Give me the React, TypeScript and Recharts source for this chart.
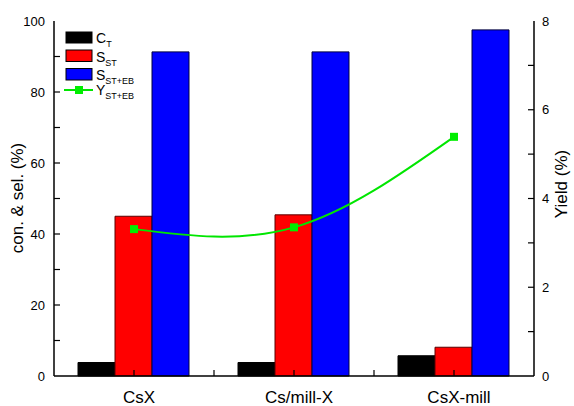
import {
  Bar,
  ComposedChart,
  Line,
  XAxis,
  YAxis,
} from "recharts";

const categories = ["CsX", "Cs/mill-X", "CsX-mill"];
const conversionT = [3.8, 3.8, 5.7];
const selST = [45.0, 45.4, 8.1];
const selSTEB = [91.3, 91.3, 97.5];
const yieldSTEB = [3.31, 3.35, 5.39];

const leftTicks = [0, 10, 20, 30, 40, 50, 60, 70, 80, 90, 100];
const rightTicks = [0, 1, 2, 3, 4, 5, 6, 7, 8];
const topTicks = [0.5, 1, 1.5, 2, 2.5];

const data = categories.map((name, i) => ({
  name,
  ct: conversionT[i],
  sst: selST[i],
  ssteb: selSTEB[i],
  y: yieldSTEB[i],
}));

const FONT = "'Liberation Sans', Arial, sans-serif";

function LeftTick(props: any) {
  const { x, y, payload } = props;
  const v = payload.value;
  return (
    <g>
      {v !== 0 && v !== 100 && (
        <line x1={x} x2={x + 6} y1={y} y2={y} stroke="#000" strokeWidth={1.2} />
      )}
      {v % 20 === 0 && (
        <text x={x - 9} y={y} dy="0.35em" textAnchor="end" fontSize={13} fontFamily={FONT} fill="#000">
          {v}
        </text>
      )}
    </g>
  );
}

function RightTick(props: any) {
  const { x, y, payload } = props;
  const v = payload.value;
  return (
    <g>
      {v !== 0 && v !== 8 && (
        <line x1={x} x2={x - 6} y1={y} y2={y} stroke="#000" strokeWidth={1.2} />
      )}
      {v % 2 === 0 && (
        <text x={x + 8} y={y} dy="0.35em" textAnchor="start" fontSize={13} fontFamily={FONT} fill="#000">
          {v}
        </text>
      )}
    </g>
  );
}

function BottomTick(props: any) {
  const { x, y, payload, index } = props;
  return (
    <g>
      <line x1={x} x2={x} y1={y} y2={y - 6} stroke="#000" strokeWidth={1.2} />
      {index < 2 && (
        <line x1={x + 80} x2={x + 80} y1={y} y2={y - 6} stroke="#000" strokeWidth={1.2} />
      )}
      <text x={x + 5} y={y + 27} textAnchor="middle" fontSize={17} fontFamily={FONT} fill="#000">
        {payload.value}
      </text>
    </g>
  );
}

function TopTick(props: any) {
  const { x, y } = props;
  return <line x1={x} x2={x} y1={y} y2={y + 6} stroke="#000" strokeWidth={1.2} />;
}

function SquareDot(props: any) {
  const { cx, cy } = props;
  if (cx == null || cy == null) return null;
  return <rect x={cx - 4} y={cy - 4} width={8} height={8} fill="#00ee00" />;
}

function Overlay() {
  const txt = { fontFamily: FONT, fill: "#000" };
  return (
    <svg
      width={574}
      height={406}
      style={{ position: "absolute", left: 0, top: 0, pointerEvents: "none" }}
    >
      <text
        x={17}
        y={198}
        transform="rotate(-90 17 198)"
        textAnchor="middle"
        dominantBaseline="central"
        fontSize={17}
        {...txt}
      >
        con. &amp; sel. (%)
      </text>
      <text
        x={561}
        y={184}
        transform="rotate(-90 561 184)"
        textAnchor="middle"
        dominantBaseline="central"
        fontSize={17}
        {...txt}
      >
        Yield (%)
      </text>
      <rect x={66} y={32} width={26} height={11} fill="#000" stroke="#000" />
      <text x={96} y={43} fontSize={14} {...txt}>
        C<tspan fontSize={9} dy={4}>T</tspan>
      </text>
      <rect x={66} y={50} width={26} height={11.5} fill="#ff0000" stroke="#000" />
      <text x={96} y={61.5} fontSize={14} {...txt}>
        S<tspan fontSize={9} dy={4}>ST</tspan>
      </text>
      <rect x={66} y={68.5} width={26} height={11.5} fill="#0000ff" stroke="#000" />
      <text x={96} y={80} fontSize={14} {...txt}>
        S<tspan fontSize={9} dy={4}>ST+EB</tspan>
      </text>
      <line x1={64} x2={93} y1={90} y2={90} stroke="#00e600" strokeWidth={2} />
      <rect x={75} y={86} width={8} height={8} fill="#00ee00" />
      <text x={96} y={95} fontSize={14} {...txt}>
        Y<tspan fontSize={9} dy={4}>ST+EB</tspan>
      </text>
    </svg>
  );
}

export default function App() {
  return (
    <div style={{ position: "absolute", left: 0, top: 0, width: 574, height: 406, background: "#fff" }}>
      <ComposedChart
        width={574}
        height={406}
        data={data}
        margin={{ top: 21, right: 0, bottom: 0, left: 0 }}
        barCategoryGap="15%"
        barGap={0}
      >
        <XAxis
          dataKey="name"
          height={30}
          tickSize={0}
          tickMargin={0}
          tick={<BottomTick />}
          axisLine={{ stroke: "#000", strokeWidth: 1.5 }}
          tickLine={false}
          interval={0}
        />
        <XAxis
          xAxisId="top"
          orientation="top"
          type="number"
          domain={[0, 3]}
          ticks={topTicks}
          height={0}
          tickSize={0}
          tickMargin={0}
          tick={<TopTick />}
          axisLine={{ stroke: "#000", strokeWidth: 1.5 }}
          tickLine={false}
          allowDataOverflow
        />
        <YAxis
          yAxisId="left"
          width={54}
          domain={[0, 100]}
          ticks={leftTicks}
          interval={0}
          tickSize={0}
          tickMargin={0}
          tick={<LeftTick />}
          tickLine={false}
          axisLine={{ stroke: "#000", strokeWidth: 1.5 }}
        />
        <YAxis
          yAxisId="right"
          orientation="right"
          width={40}
          domain={[0, 8]}
          ticks={rightTicks}
          interval={0}
          tickSize={0}
          tickMargin={0}
          tick={<RightTick />}
          tickLine={false}
          axisLine={{ stroke: "#000", strokeWidth: 1.5 }}
        />
        <Bar yAxisId="left" dataKey="ct" fill="#000000" stroke="#000" strokeWidth={1} isAnimationActive={false} />
        <Bar yAxisId="left" dataKey="sst" fill="#ff0000" stroke="#5a0000" strokeWidth={1} isAnimationActive={false} />
        <Bar yAxisId="left" dataKey="ssteb" fill="#0000ff" stroke="#000040" strokeWidth={1} isAnimationActive={false} />
        <Line
          yAxisId="right"
          dataKey="y"
          type="natural"
          stroke="#00e600"
          strokeWidth={2}
          dot={<SquareDot />}
          activeDot={false}
          isAnimationActive={false}
        />
      </ComposedChart>
      <Overlay />
    </div>
  );
}
